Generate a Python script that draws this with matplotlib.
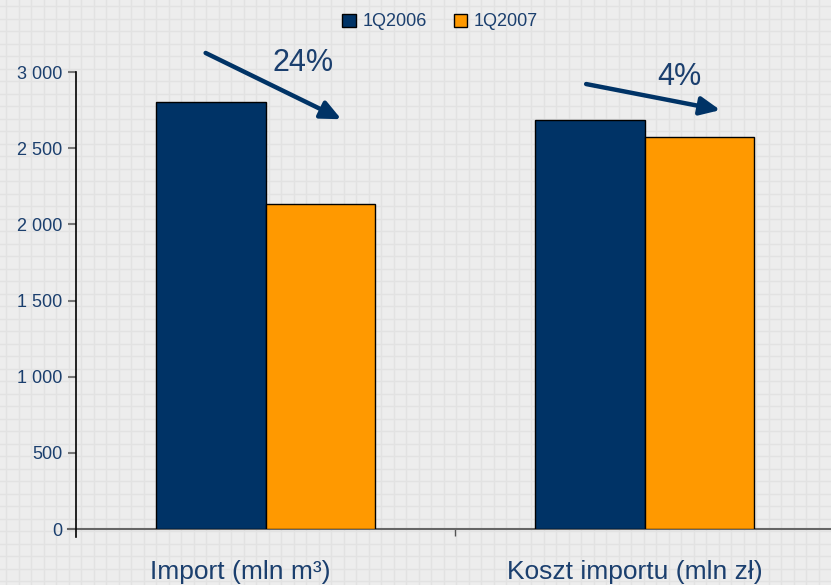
import matplotlib
matplotlib.use("Agg")
import matplotlib.pyplot as plt
import matplotlib.transforms as mtrans
import numpy as np

plt.rcParams['font.family'] = ['Liberation Sans', 'DejaVu Sans']

categories = ["Import (mln m³)", "Koszt importu (mln zł)"]
series_names = ["1Q2006", "1Q2007"]
values_2006 = [2803, 2685]
values_2007 = [2133, 2573]
yticks = [0, 500, 1000, 1500, 2000, 2500, 3000]
ytick_labels = ["0", "500", "1 000", "1 500", "2 000", "2 500", "3 000"]
change_labels = ["24%", "4%"]

dark = "#003366"
orange = "#FF9900"
txt = "#1b3f6e"
bg = "#ededed"

W, H = 831, 585
fig = plt.figure(figsize=(W/100, H/100), dpi=100, facecolor=bg)

# background texture (faint grid pattern)
bgax = fig.add_axes([0, 0, 1, 1], zorder=-10)
bgax.set_xlim(0, W)
bgax.set_ylim(H, 0)
bgax.axis('off')
for p in np.arange(6, W, 12.5):
    bgax.axvline(p, color='#e2e2e2', lw=1.0)
for p in np.arange(6, H, 12.5):
    bgax.axhline(p, color='#e2e2e2', lw=1.0)

ax = fig.add_axes([76/W, 1-529/H, (834-76)/W, (529-72)/H])
ax.set_facecolor('none')

x = np.arange(len(categories)) + 0.5
w = 0.288
b1 = ax.bar(x - w/2, values_2006, w, color=dark, edgecolor='black', linewidth=1, label=series_names[0], zorder=3)
b2 = ax.bar(x + w/2, values_2007, w, color=orange, edgecolor='black', linewidth=1, label=series_names[1], zorder=3)

ax.set_xlim(0, 2)
ax.set_ylim(0, 3000)
ax.set_yticks(yticks)
ax.set_yticklabels(ytick_labels, color=txt, fontsize=13)
ax.tick_params(axis='y', direction='out', length=6, width=1.5, color='#777777', pad=4)
ax.set_xticks([1])
ax.set_xticklabels([""])
ax.tick_params(axis='x', direction='out', length=5, width=1, color='#555555')

for s in ['top', 'right', 'left']:
    ax.spines[s].set_visible(False)
ax.spines['bottom'].set_color('#666666')
ax.spines['bottom'].set_linewidth(1.5)
ax.spines['bottom'].set_bounds(-0.02, 2)
ax.plot([0, 0], [-0.017, 1], transform=ax.transAxes, color='black', lw=1.2, clip_on=False, zorder=4)

label_offsets = [-0.067, -0.025]
btr = mtrans.blended_transform_factory(ax.transData, fig.transFigure)
for xi, off, lab in zip(x, label_offsets, categories):
    ax.text(xi + off, 1-579/H, lab, transform=btr,
            ha='center', va='baseline', fontsize=19, color=txt)

# change arrows
arrows = [((0.342, 3125), (0.70, 2690)), ((1.346, 2921), (1.70, 2750))]
text_pos = [(0.60, 3059), (1.592, 2967)]
for (st, en), tp, lab in zip(arrows, text_pos, change_labels):
    ax.annotate("", xy=en, xytext=st,
                arrowprops=dict(arrowstyle="-|>,head_length=1.2,head_width=0.55", color=dark, lw=3.2,
                                shrinkA=0, shrinkB=0),
                annotation_clip=False, zorder=5)
    ax.text(tp[0], tp[1], lab, ha='center', va='center', fontsize=22, color=txt, zorder=5)

leg = fig.legend(handles=[b1, b2], labels=series_names, loc='center', bbox_to_anchor=(440/W, 1-22/H),
                 ncol=2, frameon=False, fontsize=13, handlelength=0.75, handleheight=0.75,
                 handletextpad=0.35, columnspacing=1.5, labelcolor=txt)

fig.savefig("out.png", dpi=100, facecolor=bg)
